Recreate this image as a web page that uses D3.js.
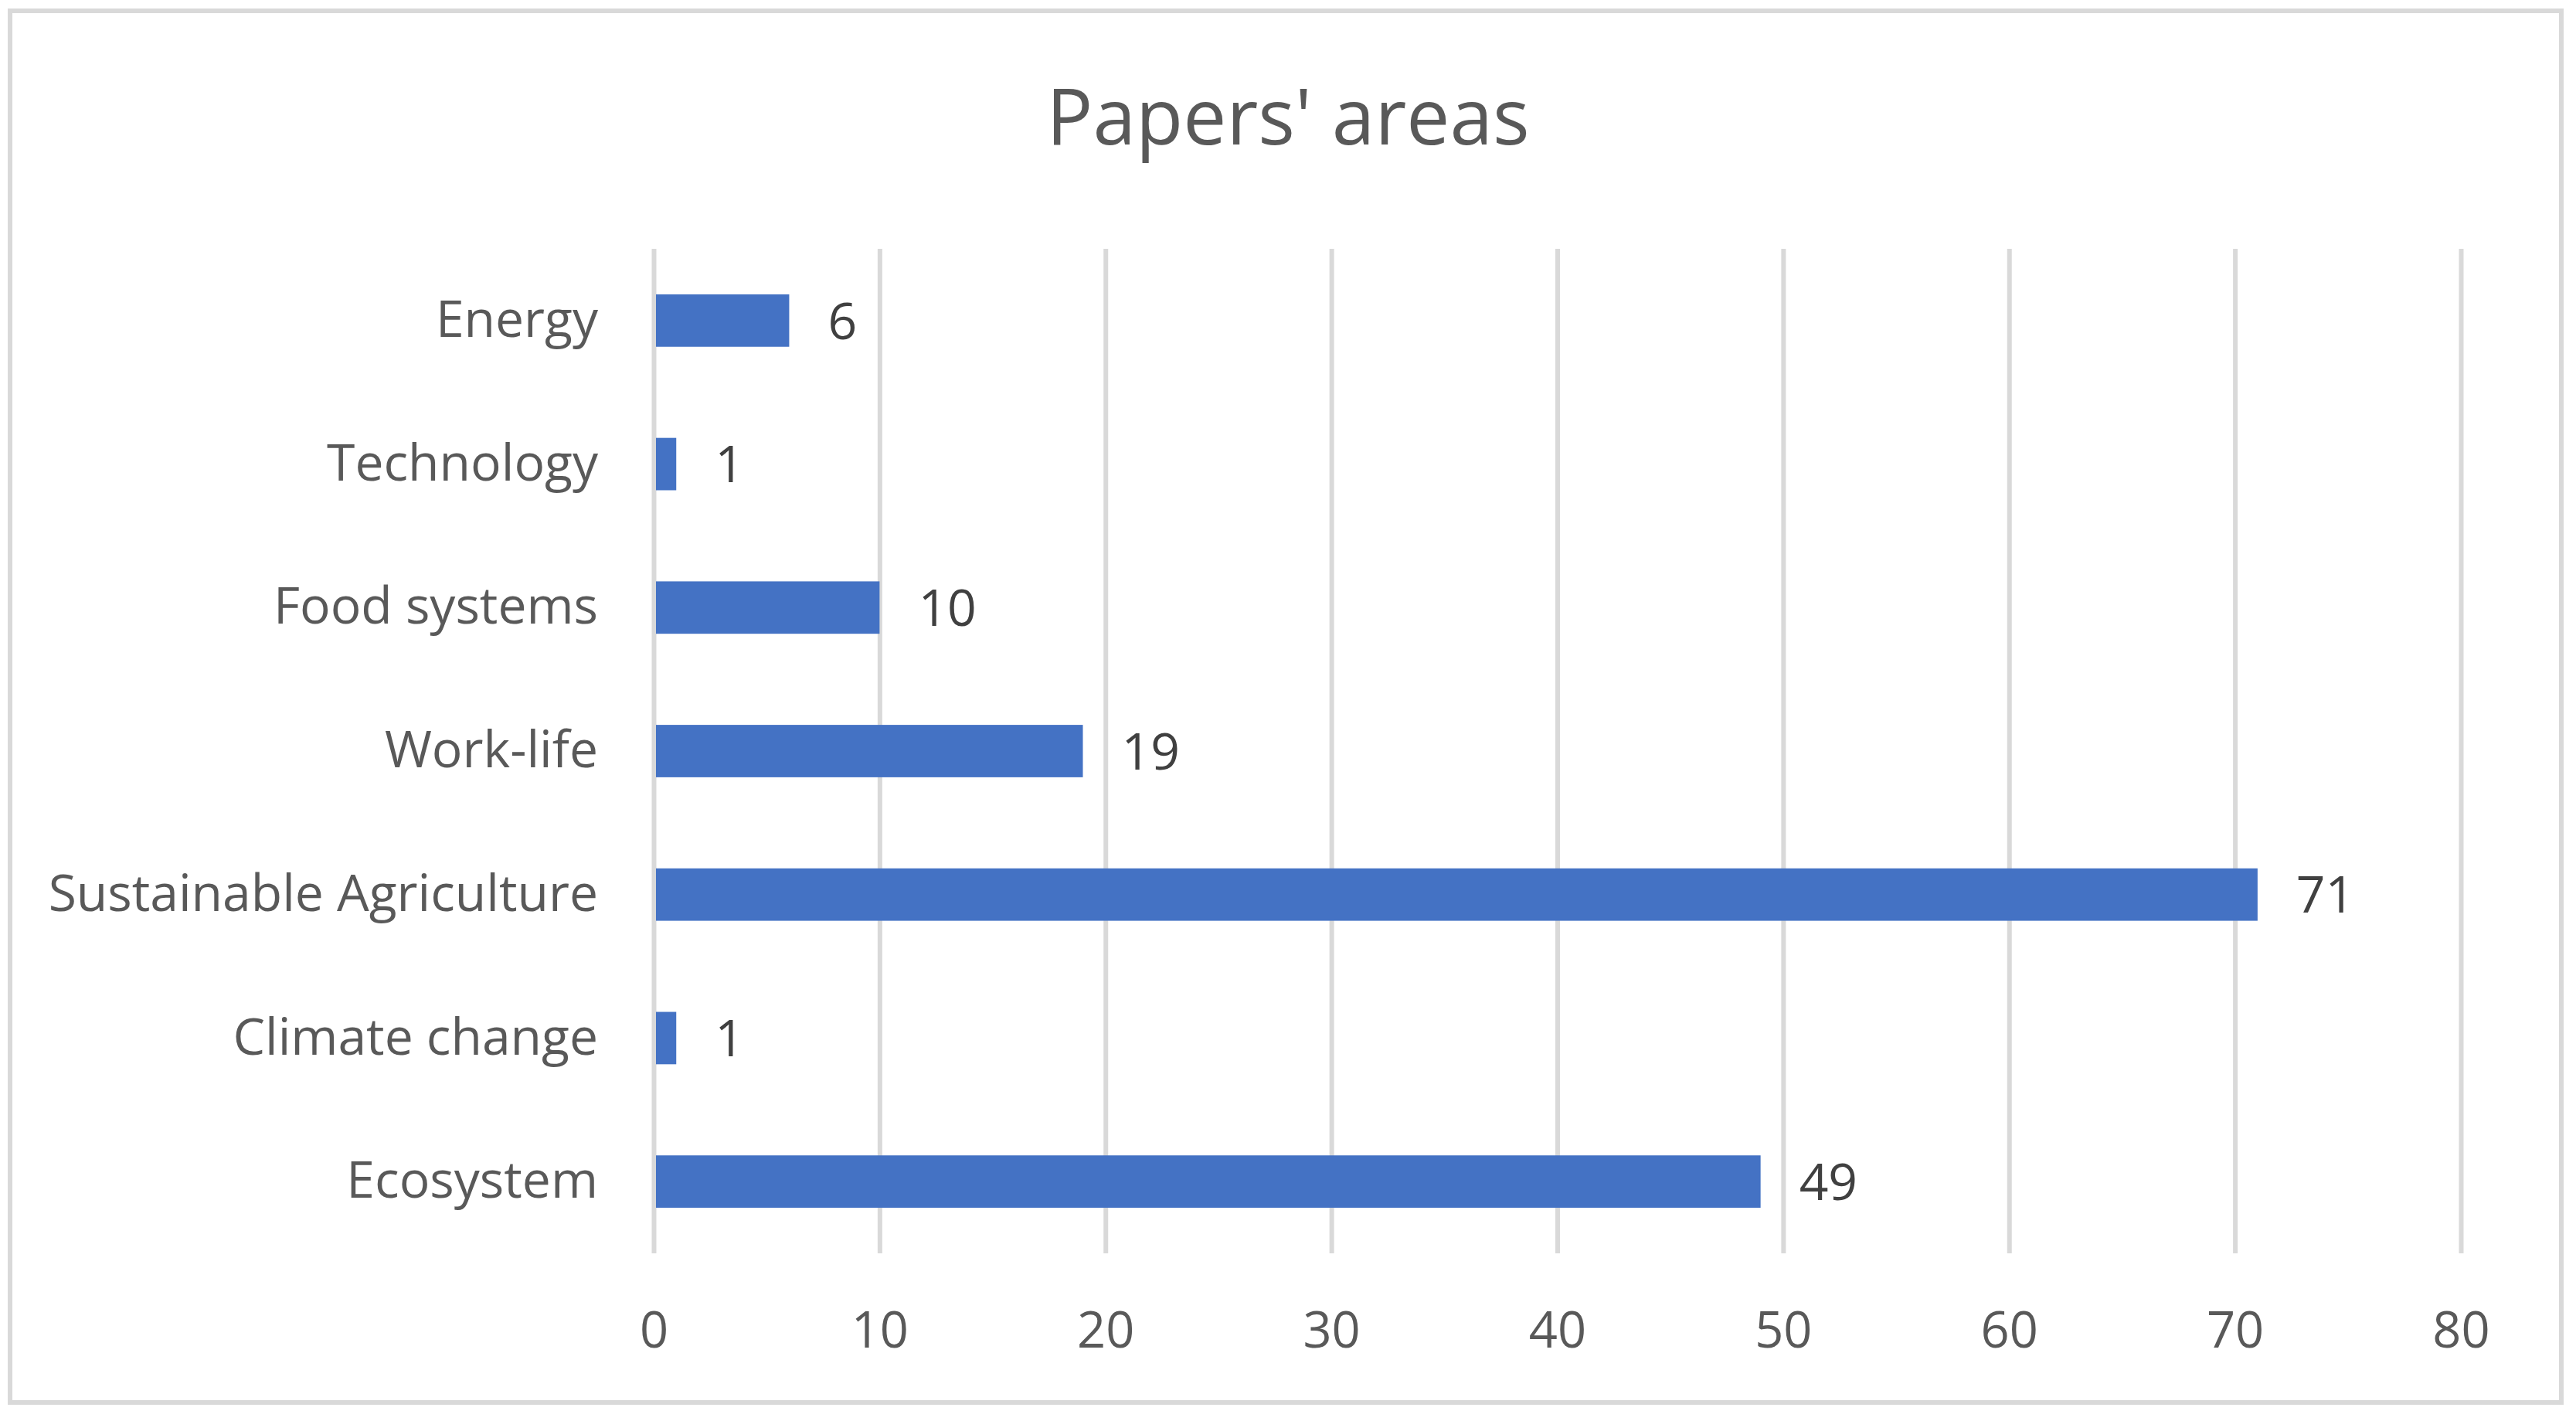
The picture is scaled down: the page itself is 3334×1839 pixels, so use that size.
<!DOCTYPE html>
<html>
<head>
<meta charset="utf-8">
<script src="https://cdn.jsdelivr.net/npm/d3@7"></script>
<style>
  body { margin: 0; background: #fff; }
  text { font-family: "Open Sans", "Noto Sans", sans-serif; }
</style>
</head>
<body>
<svg></svg>
<script>
const WIDTH = 3334;
const HEIGHT = 1839;

// data, top to bottom as drawn
const categories = ['Energy', 'Technology', 'Food systems', 'Work-life',
  'Sustainable Agriculture', 'Climate change', 'Ecosystem'];
const papers = [6, 1, 10, 19, 71, 1, 49];
const xTicks = [0, 10, 20, 30, 40, 50, 60, 70, 80];
const title = "Papers' areas";

const plot = {left: 846, right: 3185, top: 322, bottom: 1622};

const svg = d3.select('svg').attr('width', WIDTH).attr('height', HEIGHT);

// chart area frame
svg.append('rect')
  .attr('x', 13).attr('y', 14)
  .attr('width', 3302).attr('height', 1801)
  .attr('fill', '#fff')
  .attr('stroke', '#d9d9d9')
  .attr('stroke-width', 6);

svg.append('text')
  .attr('x', 1667).attr('y', 187)
  .attr('text-anchor', 'middle')
  .attr('font-size', 100)
  .attr('fill', '#595959')
  .text(title);

const x = d3.scaleLinear().domain([0, 80]).range([plot.left, plot.right]);
const y = d3.scaleBand()
  .domain(categories)
  .range([plot.top, plot.bottom])
  .paddingInner(0.635)
  .paddingOuter(0.3175);

// x axis doubles as the vertical gridlines
const xAxis = svg.append('g')
  .attr('transform', `translate(0,${plot.bottom})`)
  .call(d3.axisBottom(x)
    .tickValues(xTicks)
    .tickSize(-(plot.bottom - plot.top))
    .tickPadding(76));
xAxis.select('.domain').remove();
xAxis.selectAll('.tick line').attr('stroke', '#d9d9d9').attr('stroke-width', 6);
xAxis.selectAll('.tick text')
  .attr('font-family', '"Open Sans", sans-serif')
  .attr('font-size', 65)
  .attr('fill', '#595959');

const yAxis = svg.append('g')
  .attr('transform', `translate(${plot.left - 72},0)`)
  .call(d3.axisLeft(y).tickSize(0).tickPadding(0));
yAxis.select('.domain').remove();
yAxis.selectAll('.tick text')
  .attr('font-family', '"Open Sans", sans-serif')
  .attr('font-size', 66)
  .attr('fill', '#595959');

const rows = categories.map((c, i) => ({cat: c, value: papers[i]}));

svg.append('g').selectAll('rect')
  .data(rows)
  .join('rect')
  .attr('x', x(0) + 3)
  .attr('y', d => y(d.cat))
  .attr('width', d => x(d.value) - x(0) - 3)
  .attr('height', y.bandwidth())
  .attr('fill', '#4472c4');

svg.append('g').selectAll('text')
  .data(rows)
  .join('text')
  .attr('x', d => x(d.value) + 50)
  .attr('y', d => y(d.cat) + y.bandwidth() / 2)
  .attr('dy', '0.36em')
  .attr('font-size', 66)
  .attr('fill', '#404040')
  .text(d => d.value);
</script>
</body>
</html>
